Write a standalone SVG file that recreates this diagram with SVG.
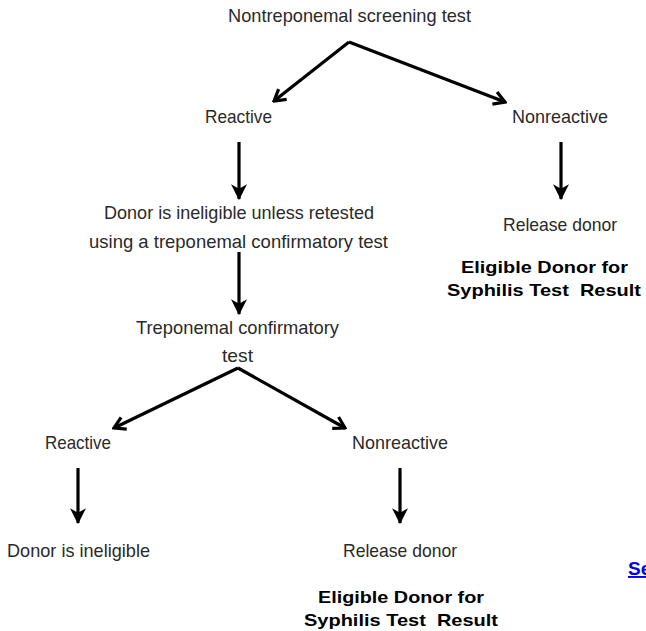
<svg xmlns="http://www.w3.org/2000/svg" width="646" height="631" viewBox="0 0 646 631">
<style>
.t{font-family:"Liberation Sans",Arial,sans-serif;font-size:19px;fill:#2a2a2a;text-anchor:middle}
.b{font-family:"Liberation Sans",Arial,sans-serif;font-size:17px;font-weight:bold;fill:#000;text-anchor:middle;white-space:pre}
.c{fill:none;stroke:#000;stroke-width:3.2}
.l{font-family:"Liberation Sans",Arial,sans-serif;font-size:19px;font-weight:bold;fill:#0000ee;text-decoration:underline}
</style>
<defs>
<marker id="open" viewBox="0 0 14 16" refX="12" refY="8" markerWidth="14" markerHeight="16" markerUnits="userSpaceOnUse" orient="auto">
<polyline points="1,1.5 12,8 1,14.5" fill="none" stroke="#000" stroke-width="3.2"/>
</marker>
<marker id="solid" viewBox="0 0 14 14" refX="13" refY="7" markerWidth="16" markerHeight="16" markerUnits="userSpaceOnUse" orient="auto">
<path d="M0,0 L14,7 L0,14 L4,7 Z" fill="#000"/>
</marker>
</defs>
<g id="connectors">
<line class="c" x1="349" y1="42" x2="274" y2="101" marker-end="url(#open)"/>
<line class="c" x1="349" y1="42" x2="505" y2="102" marker-end="url(#open)"/>
<line class="c" x1="239" y1="142" x2="239" y2="199" marker-end="url(#solid)"/>
<line class="c" x1="561" y1="142" x2="561" y2="199" marker-end="url(#solid)"/>
<line class="c" x1="239" y1="252" x2="239" y2="314" marker-end="url(#solid)"/>
<line class="c" x1="238" y1="368" x2="114" y2="428" marker-end="url(#open)"/>
<line class="c" x1="238" y1="368" x2="345" y2="428" marker-end="url(#open)"/>
<line class="c" x1="78" y1="468" x2="78" y2="523" marker-end="url(#solid)"/>
<line class="c" x1="400" y1="468" x2="400" y2="523" marker-end="url(#solid)"/>
</g>
<g id="n-screen"><text class="t" x="349.5" y="22" textLength="243" lengthAdjust="spacingAndGlyphs">Nontreponemal screening test</text></g>
<g id="n-reactive1"><text class="t" x="238.5" y="123" textLength="67" lengthAdjust="spacingAndGlyphs">Reactive</text></g>
<g id="n-nonreactive1"><text class="t" x="560" y="123" textLength="96" lengthAdjust="spacingAndGlyphs">Nonreactive</text></g>
<g id="n-release1"><text class="t" x="560" y="231" textLength="114" lengthAdjust="spacingAndGlyphs">Release donor</text></g>
<g id="n-eligible1">
<text class="b" x="544.5" y="273" textLength="167" lengthAdjust="spacingAndGlyphs">Eligible Donor for</text>
<text class="b" x="544" y="296" textLength="194" lengthAdjust="spacingAndGlyphs">Syphilis Test  Result</text>
</g>
<g id="n-ineligible-unless">
<text class="t" x="239" y="219" textLength="270" lengthAdjust="spacingAndGlyphs">Donor is ineligible unless retested</text>
<text class="t" x="238.5" y="248" textLength="299" lengthAdjust="spacingAndGlyphs">using a treponemal confirmatory test</text>
</g>
<g id="n-confirm">
<text class="t" x="237.5" y="334" textLength="203" lengthAdjust="spacingAndGlyphs">Treponemal confirmatory</text>
<text class="t" x="237.5" y="362" textLength="31" lengthAdjust="spacingAndGlyphs">test</text>
</g>
<g id="n-reactive2"><text class="t" x="78" y="449" textLength="66" lengthAdjust="spacingAndGlyphs">Reactive</text></g>
<g id="n-nonreactive2"><text class="t" x="400" y="449" textLength="96" lengthAdjust="spacingAndGlyphs">Nonreactive</text></g>
<g id="n-ineligible"><text class="t" x="78.5" y="557" textLength="143" lengthAdjust="spacingAndGlyphs">Donor is ineligible</text></g>
<g id="n-release2"><text class="t" x="400" y="557" textLength="114" lengthAdjust="spacingAndGlyphs">Release donor</text></g>
<g id="n-eligible2">
<text class="b" x="401" y="603" textLength="166" lengthAdjust="spacingAndGlyphs">Eligible Donor for</text>
<text class="b" x="401" y="626" textLength="194" lengthAdjust="spacingAndGlyphs">Syphilis Test  Result</text>
</g>
<g id="link"><text class="l" x="628" y="575">Se</text></g>
</svg>
